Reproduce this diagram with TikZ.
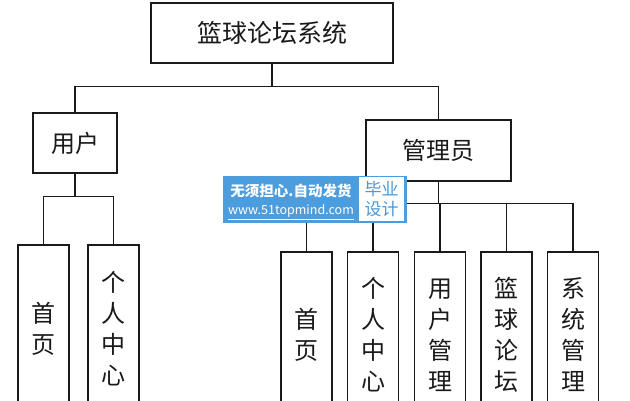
\documentclass[tikz,border=0pt]{standalone}
\usepackage{fontspec}
\setmainfont{Noto Sans CJK SC}
\definecolor{wmblue}{HTML}{4C9DDE}
\definecolor{wmtext}{HTML}{4A98D6}
\definecolor{ink}{HTML}{1A1A1A}
\begin{document}
\begin{tikzpicture}[x=1pt,y=-1pt,
  box/.style={draw=ink, line width=1.2pt, inner sep=0pt, fill=white, text=ink,
    font=\fontsize{24}{31}\selectfont},
  vbox/.style={box, minimum width=51pt, align=center},
  conn/.style={draw=ink, line width=1.2pt}]
\useasboundingbox (0,0) rectangle (630,400);
\clip (0,0) rectangle (630,400);
\fill[white] (0,0) rectangle (630,400);
% level 0 and 1
\node[box, minimum width=242pt, minimum height=60pt, font=\fontsize{25}{30}\selectfont] (top) at (272,33) {篮球论坛系统};
\node[box, minimum width=84pt, minimum height=60pt] (user) at (75,143) {用户};
\node[box, minimum width=145pt, minimum height=61pt] (admin) at (438.5,150.5) {管理员};
% user children
\node[vbox, minimum height=168pt] (u1) at (43.5,329) {首\\页};
\node[vbox, minimum height=168pt] (u2) at (113.5,329) {个\\人\\中\\心};
% admin children
\node[vbox, minimum height=166pt] (a1) at (306.5,335) {首\\页};
\node[vbox, minimum height=166pt] (a2) at (373,335) {个\\人\\中\\心};
\node[vbox, minimum height=166pt] (a3) at (440,335) {用\\户\\管\\理};
\node[vbox, minimum height=166pt] (a4) at (506.5,335) {篮\\球\\论\\坛};
\node[vbox, minimum height=166pt] (a5) at (573,335) {系\\统\\管\\理};
% connectors
\draw[conn] (top.south) -- ++(0,23) -| (user.north);
\draw[conn] (top.south) -- ++(0,23) -| (admin.north);
\draw[conn] (user.south) -- ++(0,23) -| (u1.north);
\draw[conn] (user.south) -- ++(0,23) -| (u2.north);
\foreach \c in {a1,a2,a3,a4,a5}
  \draw[conn] (admin.south) -- ++(0,22) -| (\c.north);
% watermark
\node[fill=wmblue, minimum width=184pt, minimum height=47pt, inner sep=0pt] (wm) at (315,199.5) {};
\node[fill=white, minimum width=45pt, minimum height=44pt, inner sep=0pt, align=center,
  text=wmtext, font=\fontsize{17}{20}\selectfont] (wmb) at (381.5,199) {毕业\\设计};
\node[text=white, inner sep=0pt, font=\fontsize{14.5}{16}\selectfont\bfseries] (wm1) at (291,191) {无须担心.自动发货};
\node[text=white, inner sep=0pt, font=\fontsize{12.5}{14}\selectfont] (wm2) at (291,212) {\underline{www.51topmind.com}};
\end{tikzpicture}
\end{document}
